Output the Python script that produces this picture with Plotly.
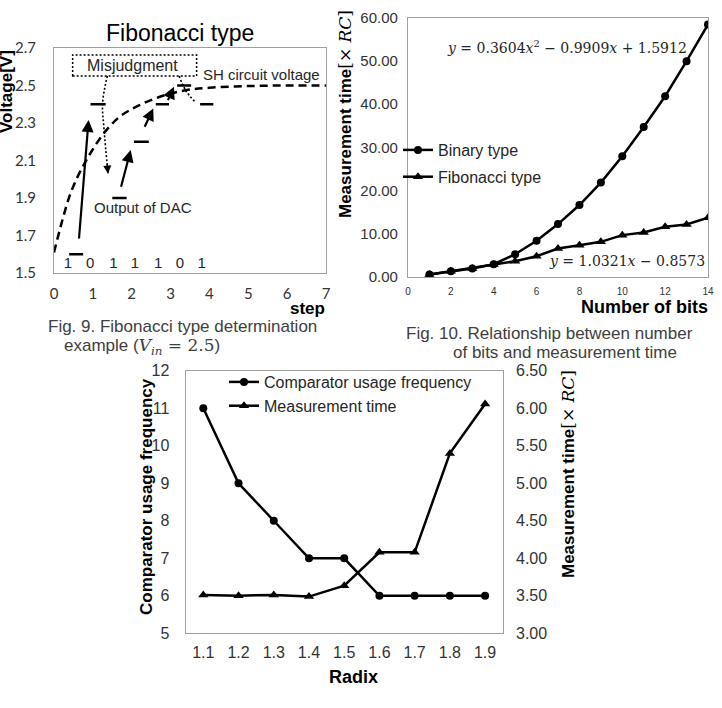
import plotly.graph_objects as go

W, H = 722, 708

# ---------------- Fig. 9 data ----------------
sh_step = [0, 0.2, 0.4, 0.6, 0.8, 1.0, 1.3, 1.7, 2.2, 2.8, 3.4, 4.0, 5.0, 6.0, 7.0]
sh_volt = [1.61, 1.77, 1.91, 2.01, 2.09, 2.16, 2.25, 2.335, 2.395, 2.445, 2.475, 2.488, 2.497, 2.5, 2.5]
dac_start = [0.39, 0.94, 1.50, 2.06, 2.62, 3.17, 3.76]
dac_end = [0.75, 1.33, 1.87, 2.44, 2.96, 3.53, 4.10]
dac_value = [1.6, 2.4, 1.9, 2.2, 2.4, 2.5, 2.4]
bits = ["1", "0", "1", "1", "1", "0", "1"]
bit_step = [0.36, 0.93, 1.53, 2.08, 2.68, 3.24, 3.80]
bit_volt = 1.545
# solid arrows: (tail step, tail V, head step, head V)
arrows = [(0.64, 1.676, 0.89, 2.316),
          (1.716, 1.952, 1.974, 2.156),
          (2.316, 2.272, 2.555, 2.378),
          (2.916, 2.414, 3.088, 2.494)]
mis_path1_x = [1.372, 1.25, 1.29, 1.39]
mis_path1_y = [2.551, 2.405, 2.263, 2.03]
mis_path2_x = [3.217, 3.40, 3.62]
mis_path2_y = [2.551, 2.47, 2.415]

# ---------------- Fig. 10 data ----------------
bits_n = list(range(1, 15))
binary_time = [0.56, 1.32, 1.95, 2.95, 5.27, 8.36, 12.24, 16.65, 21.83, 27.9, 34.7, 41.8, 49.9, 58.4]
fib_time = [0.56, 1.32, 1.95, 2.87, 3.64, 4.8, 6.59, 7.36, 8.13, 9.68, 10.3, 11.6, 12.16, 13.7]

# ---------------- Fig. 11 data ----------------
radix = ["1.1", "1.2", "1.3", "1.4", "1.5", "1.6", "1.7", "1.8", "1.9"]
comparator = [11, 9, 8, 7, 7, 6, 6, 6, 6]
meas_time = [3.511, 3.502, 3.511, 3.489, 3.635, 4.079, 4.079, 5.398, 6.056]


def px(x):
    return x / W


def py(y):
    return 1 - y / H


SANS = "Liberation Sans, Arial, sans-serif"
SERIF = "DejaVu Serif, serif"
TXT = "#262626"
BORDER = "#a0a0a0"

fig = go.Figure()

# Fig 9 traces
fig.add_trace(go.Scatter(x=sh_step, y=sh_volt, mode="lines", line=dict(color="black", width=2.5, dash="8px,5px", shape="spline"),
                         xaxis="x", yaxis="y", showlegend=False, hoverinfo="skip"))
seg_x, seg_y = [], []
for s, e, v in zip(dac_start, dac_end, dac_value):
    seg_x += [s, e, None]
    seg_y += [v, v, None]
fig.add_trace(go.Scatter(x=seg_x, y=seg_y, mode="lines", line=dict(color="black", width=2.5),
                         xaxis="x", yaxis="y", showlegend=False))
fig.add_trace(go.Scatter(x=bit_step, y=[bit_volt] * len(bits), mode="text", text=bits,
                         textfont=dict(family=SANS, size=15, color=TXT),
                         xaxis="x", yaxis="y", showlegend=False))
for mx, my in [(mis_path1_x, mis_path1_y), (mis_path2_x, mis_path2_y)]:
    fig.add_trace(go.Scatter(x=mx, y=my, mode="lines", line=dict(color="black", width=1.6, dash="2px,2px", shape="spline"),
                             xaxis="x", yaxis="y", showlegend=False))

# Fig 10 traces
fig.add_trace(go.Scatter(x=bits_n, y=binary_time, mode="lines+markers", name="Binary type",
                         line=dict(color="black", width=2.5), marker=dict(symbol="circle", size=8, color="black"),
                         xaxis="x2", yaxis="y2", legend="legend2", legendgroup="a"))
fig.add_trace(go.Scatter(x=bits_n, y=fib_time, mode="lines+markers", name="Fibonacci type",
                         line=dict(color="black", width=2.5), marker=dict(symbol="triangle-up", size=9, color="black"),
                         xaxis="x2", yaxis="y2", legend="legend2", legendgroup="b"))

# Fig 11 traces
fig.add_trace(go.Scatter(x=radix, y=comparator, mode="lines+markers", name="Comparator usage frequency",
                         line=dict(color="black", width=2.5), marker=dict(symbol="circle", size=8, color="black"),
                         xaxis="x3", yaxis="y3", legend="legend3"))
fig.add_trace(go.Scatter(x=radix, y=meas_time, mode="lines+markers", name="Measurement time",
                         line=dict(color="black", width=2.5), marker=dict(symbol="triangle-up", size=9, color="black"),
                         xaxis="x3", yaxis="y4", legend="legend3"))

ax_common = dict(showgrid=False, zeroline=False, showline=True, mirror=True, linecolor=BORDER, linewidth=1.2,
                 ticks="", automargin=False)

annotations = []
# solid arrows fig 9
for tx, ty, hx, hy in arrows:
    annotations.append(dict(x=hx, y=hy, ax=tx, ay=ty, xref="x", yref="y", axref="x", ayref="y", text="",
                            showarrow=True, arrowhead=2, arrowsize=1.1, arrowwidth=2.2, arrowcolor="black"))
# arrow heads for dotted paths
for mx, my in [(mis_path1_x, mis_path1_y), (mis_path2_x, mis_path2_y)]:
    annotations.append(dict(x=mx[-1], y=my[-1], ax=mx[-1] - (mx[-1] - mx[-2]) * 0.25, ay=my[-1] - (my[-1] - my[-2]) * 0.25,
                            xref="x", yref="y", axref="x", ayref="y", text="",
                            showarrow=True, arrowhead=2, arrowsize=1, arrowwidth=1.6, arrowcolor="black"))


def note(text, x, y, size, color=TXT, family=SANS, xanchor="center", angle=0, ref="paper"):
    if ref == "paper":
        x, y, xr, yr = px(x), py(y), "paper", "paper"
    else:
        xr, yr = "x", "y"
    return dict(text=text, x=x, y=y, xref=xr, yref=yr, showarrow=False, xanchor=xanchor, yanchor="middle",
                textangle=angle, font=dict(family=family, size=size, color=color))


CAP = "#404040"
annotations += [
    note("Fibonacci type", 180, 33, 23, color="black"),
    note("Misjudgment", 2.03, 2.606, 16, ref="data"),
    note("SH circuit voltage", 5.34, 2.561, 15, ref="data"),
    note("Output of DAC", 2.28, 1.85, 15, ref="data"),
    note("<b>Voltage[V]</b>", 6, 92, 17, color="black", angle=-90),
    note("<b>step</b>", 327, 309, 17, color="black", xanchor="right"),
    note("Fig. 9. Fibonacci type determination", 46, 326, 17, color=CAP, xanchor="left"),
    note("example (<span style='font-family:DejaVu Serif'><i>V</i><sub><i>in</i></sub> = 2.5</span>)",
         62, 347, 17, color=CAP, xanchor="left"),
    # Fig 10
    note("<i>y</i> = 0.3604<i>x</i><sup>2</sup> − 0.9909<i>x</i> + 1.5912", 567, 47, 14, family=SERIF),
    note("<i>y</i> = 1.0321<i>x</i> − 0.8573", 627, 261, 14, family=SERIF),
    note("<b>Measurement time</b><span style='font-family:DejaVu Serif'>[× <i>RC</i>]</span>",
         345, 114, 17, color="black", angle=-90),
    note("<b>Number of bits</b>", 710, 307, 18, color="black", xanchor="right"),
    note("Fig. 10. Relationship between number", 404, 333, 17, color=CAP, xanchor="left"),
    note("of bits and measurement time", 451, 353, 17, color=CAP, xanchor="left"),
    # Fig 11
    note("<b>Comparator usage frequency</b>", 146, 497, 17, color="black", angle=-90),
    note("<b>Measurement time</b><span style='font-family:DejaVu Serif'>[× <i>RC</i>]</span>",
         568, 474, 17, color="black", angle=-90),
    note("<b>Radix</b>", 353, 677, 18, color="black"),
]

shapes = [dict(type="rect", xref="x", yref="y", x0=0.48, x1=3.67, y0=2.551, y1=2.663,
               line=dict(color="black", width=1.5, dash="2px,2px"))]

fig.update_layout(
    width=W, height=H, margin=dict(l=0, r=0, t=0, b=0, autoexpand=False),
    paper_bgcolor="white", plot_bgcolor="white",
    xaxis=dict(ax_common, domain=[px(54), px(326)], range=[0, 7], dtick=1, anchor="y",
               tickfont=dict(family="Lato", size=15, color="#333"), ticklabelstandoff=7),
    yaxis=dict(ax_common, domain=[py(273), py(48)], range=[1.5, 2.7], tick0=1.5, dtick=0.2, tickformat=".1f",
               anchor="x", tickfont=dict(family="Lato", size=15, color="#333"), ticklabelstandoff=14),
    xaxis2=dict(ax_common, domain=[px(408), px(708)], range=[0, 14], dtick=2, anchor="y2",
                tickfont=dict(family=SANS, size=10, color="#333"), ticklabelstandoff=5),
    yaxis2=dict(ax_common, domain=[py(277), py(17.5)], range=[0, 60], dtick=10, tickformat=".2f", anchor="x2",
                tickfont=dict(family=SANS, size=15, color="#333"), ticklabelstandoff=6),
    xaxis3=dict(ax_common, domain=[px(185.7), px(502.7)], type="category", range=[-0.5, 8.5], anchor="y3",
                tickfont=dict(family=SANS, size=16, color="#333"), ticklabelstandoff=4),
    yaxis3=dict(ax_common, domain=[py(633.3), py(370.7)], range=[5, 12], dtick=1, anchor="x3",
                tickfont=dict(family=SANS, size=16, color="#333"), ticklabelstandoff=12),
    yaxis4=dict(showgrid=False, zeroline=False, showline=True, linecolor=BORDER, linewidth=1.2, ticks="",
                automargin=False,
                overlaying="y3", side="right", anchor="x3", range=[3, 6.5], dtick=0.5, tickformat=".2f",
                tickfont=dict(family=SANS, size=16, color="#333"), ticklabelstandoff=9),
    legend2=dict(x=px(398), y=py(133), xanchor="left", yanchor="top", bgcolor="rgba(0,0,0,0)",
                 font=dict(family=SANS, size=16, color=TXT), traceorder="grouped", tracegroupgap=3,
                 itemwidth=30),
    legend3=dict(x=px(224), y=py(365), xanchor="left", yanchor="top", bgcolor="rgba(0,0,0,0)",
                 font=dict(family=SANS, size=16, color=TXT), itemwidth=30),
    annotations=annotations, shapes=shapes,
)

fig.write_html("out.html")
